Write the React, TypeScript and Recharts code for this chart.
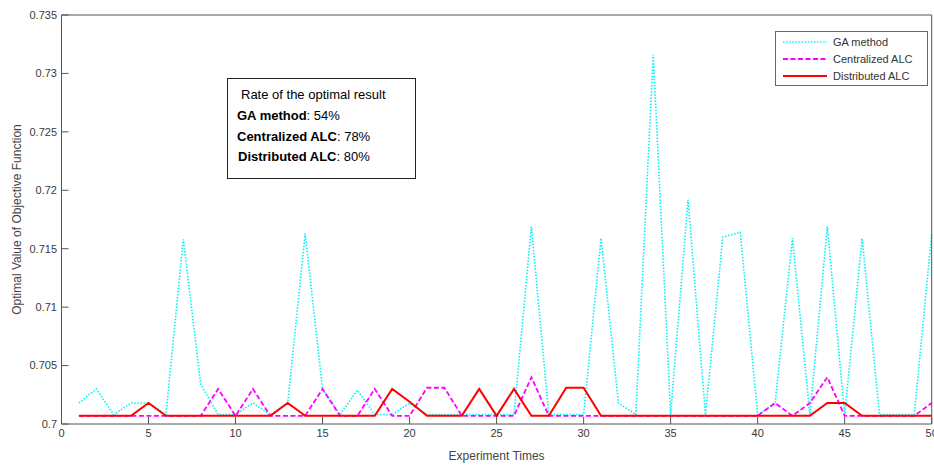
import React from 'react';
import { LineChart, Line, XAxis, YAxis, Legend } from 'recharts';

const experimentTimes = [
  1, 2, 3, 4, 5, 6, 7, 8, 9, 10,
  11, 12, 13, 14, 15, 16, 17, 18, 19, 20,
  21, 22, 23, 24, 25, 26, 27, 28, 29, 30,
  31, 32, 33, 34, 35, 36, 37, 38, 39, 40,
  41, 42, 43, 44, 45, 46, 47, 48, 49, 50,
];

const gaMethod = [
  0.7018, 0.7030, 0.7008, 0.7018, 0.7018, 0.7008, 0.7158, 0.7034, 0.7008, 0.7008,
  0.7018, 0.7008, 0.7018, 0.7163, 0.7030, 0.7008, 0.7029, 0.7008, 0.7008, 0.7018,
  0.7008, 0.7008, 0.7008, 0.7008, 0.7008, 0.7008, 0.7169, 0.7008, 0.7008, 0.7008,
  0.7159, 0.7018, 0.7008, 0.7316, 0.7008, 0.7192, 0.7008, 0.7160, 0.7164, 0.7008,
  0.7018, 0.7159, 0.7008, 0.7169, 0.7008, 0.7159, 0.7008, 0.7008, 0.7008, 0.7163,
];

const centralizedALC = [
  0.7007, 0.7007, 0.7007, 0.7007, 0.7007, 0.7007, 0.7007, 0.7007, 0.7030, 0.7007,
  0.7030, 0.7007, 0.7007, 0.7007, 0.7030, 0.7007, 0.7007, 0.7030, 0.7007, 0.7007,
  0.7031, 0.7031, 0.7007, 0.7007, 0.7007, 0.7007, 0.7040, 0.7007, 0.7007, 0.7007,
  0.7007, 0.7007, 0.7007, 0.7007, 0.7007, 0.7007, 0.7007, 0.7007, 0.7007, 0.7007,
  0.7018, 0.7007, 0.7018, 0.7040, 0.7007, 0.7007, 0.7007, 0.7007, 0.7007, 0.7018,
];

const distributedALC = [
  0.7007, 0.7007, 0.7007, 0.7007, 0.7018, 0.7007, 0.7007, 0.7007, 0.7007, 0.7007,
  0.7007, 0.7007, 0.7018, 0.7007, 0.7007, 0.7007, 0.7007, 0.7007, 0.7030, 0.7019,
  0.7007, 0.7007, 0.7007, 0.7030, 0.7007, 0.7030, 0.7007, 0.7007, 0.7031, 0.7031,
  0.7007, 0.7007, 0.7007, 0.7007, 0.7007, 0.7007, 0.7007, 0.7007, 0.7007, 0.7007,
  0.7007, 0.7007, 0.7007, 0.7018, 0.7018, 0.7007, 0.7007, 0.7007, 0.7007, 0.7007,
];

const xTicks = [0, 5, 10, 15, 20, 25, 30, 35, 40, 45, 50];
const yTicks = [0.7, 0.705, 0.71, 0.715, 0.72, 0.725, 0.73, 0.735];

const seriesNames = ['GA method', 'Centralized ALC', 'Distributed ALC'];
const seriesColors = ['#00f2f8', '#ff00ff', '#ff0000'];
const seriesDashes = ['1.5 1.6', '5 2.5', undefined];
const seriesWidths = [1.6, 1.8, 2];

const rateTitle = 'Rate of the optimal result';
const rateNames = ['GA method', 'Centralized ALC', 'Distributed ALC'];
const rateValues = ['54%', '78%', '80%'];

const xLabel = 'Experiment Times';
const yLabel = 'Optimal Value of Objective Function';

const tableData = experimentTimes.map((x, i) => ({
  x,
  ga: gaMethod[i],
  central: centralizedALC[i],
  distributed: distributedALC[i],
}));
const seriesKeys = ['ga', 'central', 'distributed'];

const FONT = 'Arial, "Liberation Sans", sans-serif';
const AXIS = '#555555';
const TICK_TEXT = '#3a3a3a';

function LegendBox() {
  return (
    <div
      style={{
        width: 153,
        height: 55,
        boxSizing: 'border-box',
        border: '1px solid #666',
        background: '#fff',
        position: 'relative',
        fontFamily: FONT,
      }}
    >
      {seriesNames.map((name, i) => (
        <div
          key={name}
          style={{
            position: 'absolute',
            left: 7,
            top: 3 + i * 17,
            height: 14,
            display: 'flex',
            alignItems: 'center',
            whiteSpace: 'nowrap',
          }}
        >
          <svg width={44} height={14} style={{ display: 'block' }}>
            <line
              x1={0}
              x2={44}
              y1={7}
              y2={7}
              stroke={seriesColors[i]}
              strokeWidth={seriesWidths[i]}
              strokeDasharray={seriesDashes[i]}
            />
          </svg>
          <span style={{ marginLeft: 6, fontSize: 11, color: '#333', lineHeight: '14px' }}>
            {name}
          </span>
        </div>
      ))}
    </div>
  );
}

export default function App() {
  return (
    <div
      style={{
        position: 'absolute',
        left: 0,
        top: 0,
        width: 934,
        height: 468,
        background: '#fff',
        fontFamily: FONT,
      }}
    >
      <LineChart
        width={934}
        height={468}
        data={tableData}
        margin={{ top: 14, right: 1.3, bottom: 0, left: 0 }}
      >
        <XAxis
          xAxisId="bottom"
          dataKey="x"
          type="number"
          domain={[0, 50]}
          ticks={xTicks}
          orientation="bottom"
          height={44}
          stroke={AXIS}
          tickSize={-7}
          tickMargin={12}
          tick={{ fill: TICK_TEXT, fontSize: 11, fontFamily: FONT }}
          interval={0}
          label={{
            value: xLabel,
            position: 'insideBottom',
            offset: 8.5,
            fill: '#444',
            fontSize: 12,
            fontFamily: FONT,
          }}
        />
        <XAxis
          xAxisId="top"
          dataKey="x"
          type="number"
          domain={[0, 50]}
          ticks={xTicks}
          orientation="top"
          height={1}
          stroke={AXIS}
          tickSize={-7}
          tick={false}
          interval={0}
        />
        <YAxis
          yAxisId="left"
          type="number"
          domain={[0.7, 0.735]}
          ticks={yTicks}
          orientation="left"
          width={61.5}
          stroke={AXIS}
          tickSize={-7}
          tickMargin={11.5}
          tick={{ fill: TICK_TEXT, fontSize: 11, fontFamily: FONT }}
          interval={0}
          label={{
            value: yLabel,
            angle: -90,
            position: 'insideLeft',
            offset: 17,
            fill: '#444',
            fontSize: 12,
            fontFamily: FONT,
            style: { textAnchor: 'middle' },
          }}
        />
        <YAxis
          yAxisId="right"
          type="number"
          domain={[0.7, 0.735]}
          ticks={yTicks}
          orientation="right"
          width={1}
          stroke={AXIS}
          tickSize={-7}
          tick={false}
          interval={0}
        />
        {seriesKeys.map((k, i) => (
          <Line
            key={k}
            xAxisId="bottom"
            yAxisId="left"
            type="linear"
            dataKey={k}
            name={seriesNames[i]}
            stroke={seriesColors[i]}
            strokeWidth={seriesWidths[i]}
            strokeDasharray={seriesDashes[i]}
            dot={false}
            activeDot={false}
            isAnimationActive={false}
          />
        ))}
        <Legend
          layout="vertical"
          align="center"
          verticalAlign="middle"
          wrapperStyle={{ left: 775, top: 31, width: 153, height: 55 }}
          content={<LegendBox />}
        />
      </LineChart>
      <div
        style={{
          position: 'absolute',
          left: 227,
          top: 78,
          width: 189,
          height: 101,
          boxSizing: 'border-box',
          border: '1px solid #222',
          background: '#fff',
          fontFamily: FONT,
          fontSize: 13,
          color: '#000',
        }}
      >
        <div style={{ position: 'absolute', left: 13, top: 8, lineHeight: '16px', whiteSpace: 'nowrap' }}>
          {rateTitle}
        </div>
        {rateNames.map((n, i) => (
          <div
            key={n}
            style={{
              position: 'absolute',
              left: i === 2 ? 10 : 9,
              top: 29 + i * 20.5,
              lineHeight: '16px',
              whiteSpace: 'nowrap',
            }}
          >
            <b>{n}</b>: {rateValues[i]}
          </div>
        ))}
      </div>
    </div>
  );
}
